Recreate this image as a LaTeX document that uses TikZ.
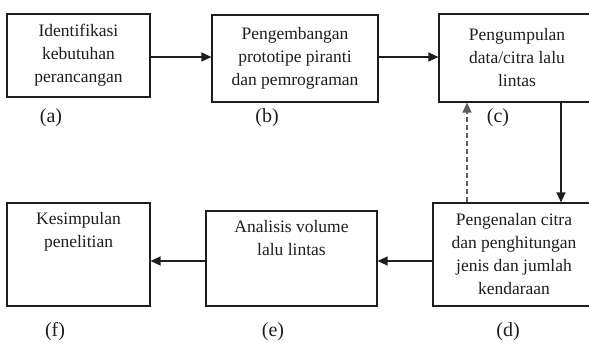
\documentclass[tikz,border=0pt]{standalone}
\usepackage{fontspec}
\setmainfont{Liberation Serif}
\usetikzlibrary{arrows.meta}
\definecolor{ink}{HTML}{1E1E1E}
\definecolor{dashgray}{HTML}{5E5E5E}
\tikzset{
  boxst/.style={draw=ink, line width=1.2pt, rectangle, inner sep=0pt, align=center, text=ink,
    font=\fontsize{17.5}{23}\selectfont},
  txt/.style={inner sep=0pt, align=center, text=ink, font=\fontsize{17.5}{23}\selectfont},
  lbl/.style={inner sep=0pt, text=ink, font=\fontsize{20}{22}\selectfont},
  arr/.style={draw=ink, line width=1.3pt, -{Triangle[length=10pt,width=9pt]}},
  darr/.style={draw=dashgray, line width=1.3pt, dash pattern=on 5pt off 3pt, -{Triangle[length=10pt,width=9pt]}}
}
\begin{document}
\begin{tikzpicture}[x=1pt,y=-1pt]
\useasboundingbox[fill=white] (0,0) rectangle (589,343);
% boxes
\node[boxst, minimum width=143pt, minimum height=83pt] (a) at (78.5,55.5) {Identifikasi\\kebutuhan\\perancangan};
\node[boxst, minimum width=166pt, minimum height=87pt] (b) at (295,58.5) {Pengembangan\\prototipe piranti\\dan pemrograman};
\node[boxst, minimum width=156pt, minimum height=88pt] (c) at (517,58) {Pengumpulan\\data/citra lalu\\lintas};
\node[boxst, minimum width=162pt, minimum height=103pt] (d) at (514,254.5) {Pengenalan citra\\dan penghitungan\\jenis dan jumlah\\kendaraan};
\node[boxst, minimum width=171pt, minimum height=95pt] (e) at (291.5,258.5) {};
\node[boxst, minimum width=143pt, minimum height=103pt] (f) at (78.5,254.5) {};
\node[txt, anchor=north] (et) at ([yshift=-10pt]e.north) {Analisis volume\\lalu lintas};
\node[txt, anchor=north] (ft) at ([yshift=-10pt]f.north) {Kesimpulan\\penelitian};
% labels
\node[lbl] (la) at (51,118) {(a)};
\node[lbl] (lb) at (267,118) {(b)};
\node[lbl] (lc) at (498,118) {(c)};
\node[lbl] (lf) at (55,332) {(f)};
\node[lbl] (le) at (273,332) {(e)};
\node[lbl] (ld) at (508,332) {(d)};
% connectors
\draw[arr] (a.east |- 0,57) -- (b.west |- 0,57);
\draw[arr] (b.east |- 0,57) -- (c.west |- 0,57);
\draw[arr] (c.south -| 561,0) -- (d.north -| 561,0);
\draw[darr] (d.north -| 467,0) -- (c.south -| 467,0);
\draw[arr] (d.west |- 0,261) -- (e.east |- 0,261);
\draw[arr] (e.west |- 0,261) -- (f.east |- 0,261);
\end{tikzpicture}
\end{document}
